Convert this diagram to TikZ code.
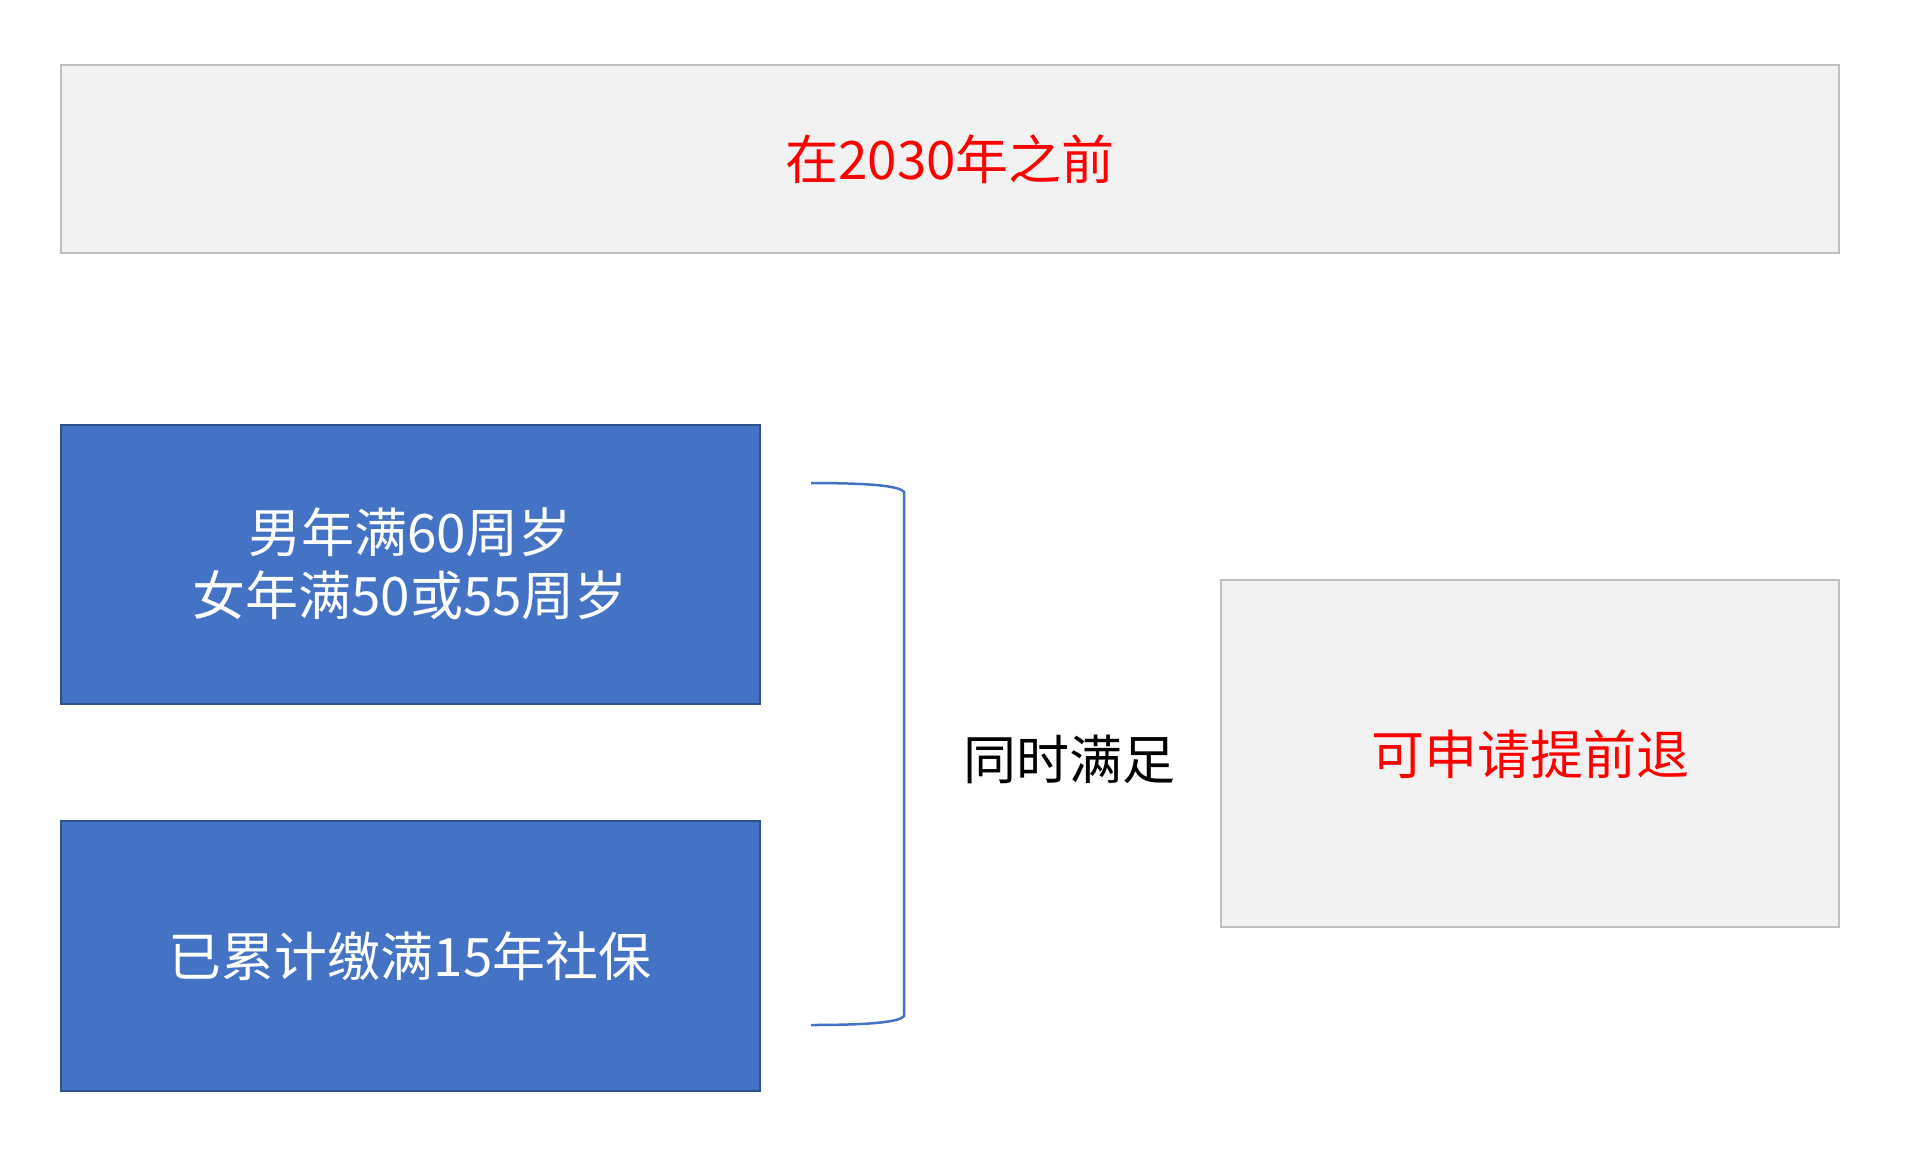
\documentclass[tikz,border=0pt]{standalone}
\usepackage{fontspec}
\newfontfamily\cjk{Noto Sans CJK SC}
\definecolor{boxgray}{HTML}{F2F2F2}
\definecolor{edgegray}{HTML}{BFBFBF}
\definecolor{accentblue}{HTML}{4472C4}
\definecolor{edgeblue}{HTML}{2F528F}
\definecolor{alertred}{HTML}{FF0000}
\begin{document}
\begin{tikzpicture}[x=1pt,y=-1pt,
  graybox/.style={draw=edgegray,fill=boxgray,line width=2.5pt},
  bluebox/.style={draw=edgeblue,fill=accentblue,line width=2.5pt},
  lbl/.style={font=\cjk\fontsize{53}{63}\selectfont,align=center,inner sep=0pt},
  bracketline/.style={draw=accentblue,line width=2.5pt}]
\useasboundingbox (0,0) rectangle (1913,1159);
\fill[white] (0,0) rectangle (1913,1159);
% top box
\draw[graybox] (61,65) rectangle (1839,253);
\node[lbl,text=alertred] (title) at (950,159) {在2030年之前};
% blue boxes
\draw[bluebox] (61,425) rectangle (760,704);
\node[lbl,text=white] (age) at (410,564) {男年满60周岁\\女年满50或55周岁};
\draw[bluebox] (61,821) rectangle (760,1091);
\node[lbl,text=white] (pay) at (410,956) {已累计缴满15年社保};
% bracket
\coordinate (bt) at (811,483);
\coordinate (bb) at (811,1025);
\draw[bracketline] (bt) .. controls (870,483) and (900,486) .. (904,492)
  -- (904,1016) .. controls (900,1022) and (870,1025) .. (bb);
\node[lbl,text=black] (both) at (1069,759) {同时满足};
% right box
\draw[graybox] (1221,580) rectangle (1839,927);
\node[lbl,text=alertred] (result) at (1530,754) {可申请提前退};
\end{tikzpicture}
\end{document}
